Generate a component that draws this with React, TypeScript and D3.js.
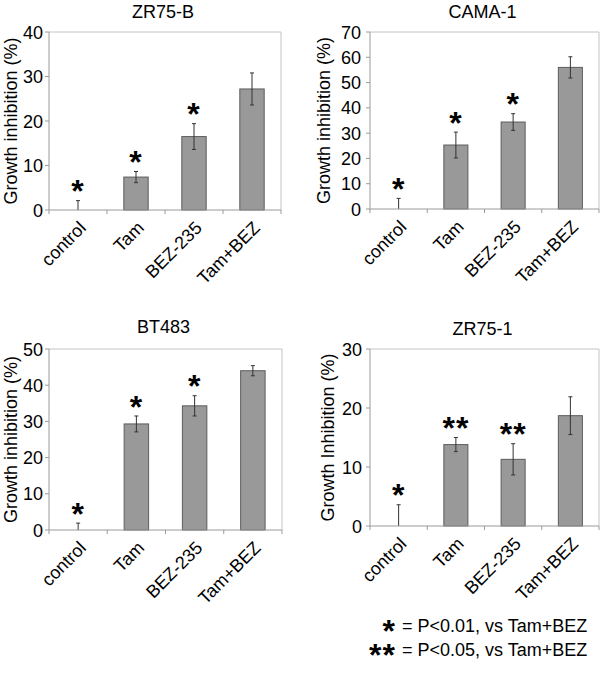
import * as d3 from 'd3'

const categories = ['control', 'Tam', 'BEZ-235', 'Tam+BEZ']

const zr75bMeans = [0, 7.4, 16.5, 27.2]
const zr75bErrors = [2.1, 1.25, 2.9, 3.6]
const zr75bStars = ['*', '*', '*', '']

const cama1Means = [0, 25.3, 34.4, 56.0]
const cama1Errors = [4.2, 5.1, 3.3, 4.2]
const cama1Stars = ['*', '*', '*', '']

const bt483Means = [0, 29.3, 34.3, 44.0]
const bt483Errors = [1.9, 2.2, 2.8, 1.4]
const bt483Stars = ['*', '*', '*', '']

const zr751Means = [0, 13.8, 11.3, 18.7]
const zr751Errors = [3.6, 1.2, 2.65, 3.2]
const zr751Stars = ['*', '**', '**', '']

const legendLines = ['= P<0.01, vs Tam+BEZ', '= P<0.05, vs Tam+BEZ']
const legendStars = ['*', '**']

const FONT = '"Liberation Sans", Arial, Helvetica, sans-serif'
const STAR = 32
// asterisk glyph centre sits about 0.49em above the baseline
const starBase = (cy) => cy + STAR * 0.49

const panels = [
  { title: 'ZR75-B', yLabel: 'Growth inhibition (%)', yMax: 40, means: zr75bMeans, errors: zr75bErrors, stars: zr75bStars,
    x0: 49, x1: 281, y0: 32, y1: 210, titleY: 18, labelX: 17, tickGap: 6 },
  { title: 'CAMA-1', yLabel: 'Growth inhibition (%)', yMax: 70, means: cama1Means, errors: cama1Errors, stars: cama1Stars,
    x0: 370, x1: 599, y0: 32, y1: 209, titleY: 18, labelX: 330, tickGap: 9 },
  { title: 'BT483', yLabel: 'Growth inhibition (%)', yMax: 50, means: bt483Means, errors: bt483Errors, stars: bt483Stars,
    x0: 49, x1: 282, y0: 349, y1: 530, titleY: 333, labelX: 17, tickGap: 6 },
  { title: 'ZR75-1', yLabel: 'Growth Inhibition (%)', yMax: 30, means: zr751Means, errors: zr751Errors, stars: zr751Stars,
    x0: 370, x1: 599, y0: 349, y1: 526, titleY: 335, labelX: 334, tickGap: 8 },
]

const Panel = ({ p }) => {
  const x = d3.scaleBand().domain(categories).range([p.x0, p.x1]).paddingInner(0.58).paddingOuter(0.29)
  const y = d3.scaleLinear().domain([0, p.yMax]).range([p.y1, p.y0])
  const ticks = d3.range(0, p.yMax + 1, 10)
  const step = x.step()
  const bw = x.bandwidth()

  return (
    <g>
      <text x={(p.x0 + p.x1) / 2 - 2} y={p.titleY} textAnchor="middle" fontSize={18} fill="#000">{p.title}</text>
      {/* frame */}
      <line x1={p.x0} x2={p.x1} y1={p.y0} y2={p.y0} stroke="#c4c4c4" />
      <line x1={p.x1} x2={p.x1} y1={p.y0} y2={p.y1} stroke="#c4c4c4" />
      {/* bars */}
      {categories.map((c, i) => (
        <rect key={c} x={x(c)} y={y(p.means[i])} width={bw} height={p.y1 - y(p.means[i])}
          fill="#999999" stroke="#5c5c5c" strokeWidth={1} />
      ))}
      {/* error bars */}
      {categories.map((c, i) => {
        const cx = x(c) + bw / 2
        const top = y(p.means[i] + p.errors[i])
        const bot = y(Math.max(0, p.means[i] - p.errors[i]))
        return (
          <g key={c} stroke="#333" strokeWidth={1}>
            <line x1={cx} x2={cx} y1={top} y2={bot} />
            <line x1={cx - 2} x2={cx + 2} y1={top} y2={top} />
            {p.means[i] - p.errors[i] > 0 && <line x1={cx - 2} x2={cx + 2} y1={bot} y2={bot} />}
          </g>
        )
      })}
      {/* stars */}
      {categories.map((c, i) => p.stars[i] && (
        <text key={c} x={x(c) + bw / 2} y={starBase(y(p.means[i] + p.errors[i]) - 14)}
          textAnchor="middle" fontSize={STAR} fontWeight="bold" letterSpacing={1} fill="#000">{p.stars[i]}</text>
      ))}
      {/* y axis */}
      <line x1={p.x0} x2={p.x0} y1={p.y0} y2={p.y1} stroke="#9a9a9a" />
      {ticks.map((t) => (
        <g key={t}>
          <line x1={p.x0 - 4} x2={p.x0} y1={y(t)} y2={y(t)} stroke="#9a9a9a" />
          <text x={p.x0 - p.tickGap} y={y(t) + 6.5} textAnchor="end" fontSize={18} fill="#000">{t}</text>
        </g>
      ))}
      <text transform={`translate(${p.labelX},${(p.y0 + p.y1) / 2}) rotate(-90)`} textAnchor="middle" fontSize={18} fill="#000">{p.yLabel}</text>
      {/* x axis */}
      <line x1={p.x0} x2={p.x1} y1={p.y1} y2={p.y1} stroke="#9a9a9a" />
      {d3.range(categories.length + 1).map((k) => (
        <line key={k} x1={p.x0 + k * step} x2={p.x0 + k * step} y1={p.y1} y2={p.y1 + 4} stroke="#9a9a9a" />
      ))}
      {categories.map((c) => {
        const cx = x(c) + bw / 2
        return (
          <text key={c} transform={`translate(${cx + 9},${p.y1 + 19}) rotate(-45)`} textAnchor="end" fontSize={18} fill="#000">{c}</text>
        )
      })}
    </g>
  )
}

const App = () => {
  return (
    <svg width={600} height={679} style={{ position: 'absolute', left: 0, top: 0, background: '#fff' }} fontFamily={FONT}>
      <rect width={600} height={679} fill="#fff" />
      {panels.map((p) => <Panel key={p.title} p={p} />)}
      {legendLines.map((t, i) => (
        <g key={t}>
          <text x={396} y={starBase(626 + i * 24)} textAnchor="end" fontSize={STAR} fontWeight="bold" letterSpacing={1} fill="#000">{legendStars[i]}</text>
          <text x={402} y={632 + i * 24} fontSize={18} fill="#000">{t}</text>
        </g>
      ))}
    </svg>
  )
}

export default App
